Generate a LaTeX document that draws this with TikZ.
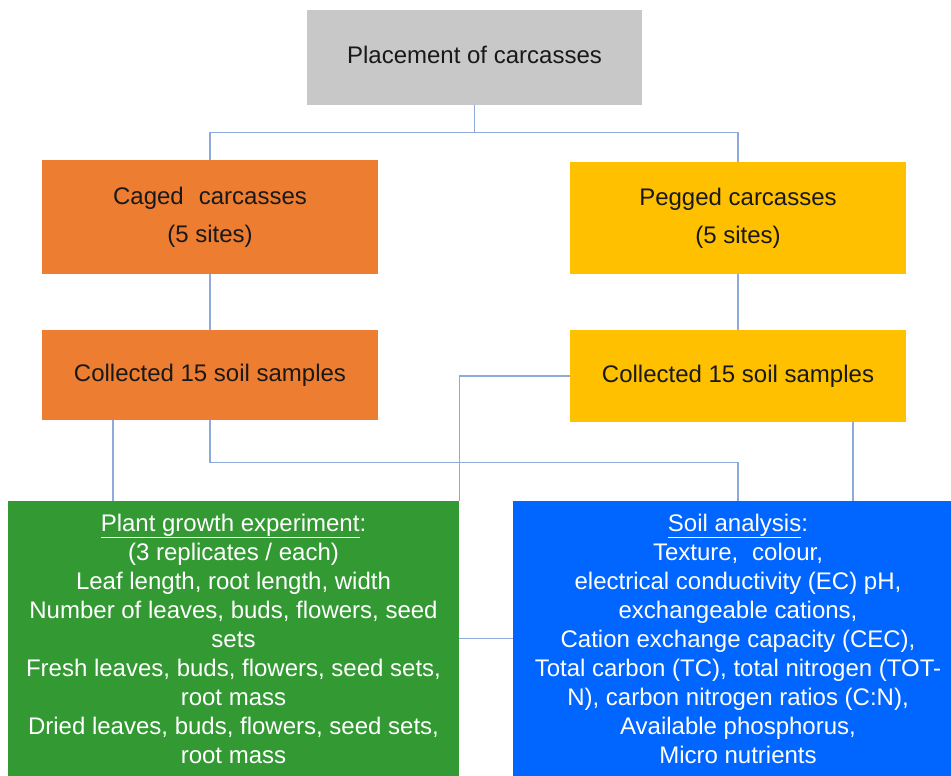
\documentclass[tikz,border=0pt]{standalone}
\usepackage{fontspec}
\setmainfont{Liberation Sans}
\definecolor{cgray}{HTML}{C8C8C8}
\definecolor{corange}{HTML}{ED7D31}
\definecolor{cgold}{HTML}{FFC000}
\definecolor{cgreen}{HTML}{339933}
\definecolor{cblue}{HTML}{0066FF}
\definecolor{cline}{HTML}{8EAADB}
\begin{document}
\begin{tikzpicture}[x=1pt,y=1pt,
  box/.style={rectangle, inner sep=0pt, align=center, text=black!90,
    font=\fontsize{24}{38}\selectfont},
  bigbox/.style={rectangle, inner sep=0pt, align=center, text=white,
    font=\fontsize{24}{29}\selectfont},
  conn/.style={draw=cline, line width=1.1pt}]
\clip (0,0) rectangle (951,-776);
\fill[white] (0,0) rectangle (951,-776);
\node[box, fill=cgray, minimum width=335, minimum height=95] (top) at (474.5,-57.5) {\raisebox{5pt}{Placement of carcasses}};
\node[box, fill=corange, minimum width=336, minimum height=114] (caged) at (210,-217) {\raisebox{-2pt}{Caged\hspace{0.35em} carcasses}\\\raisebox{-2pt}{(5 sites)}};
\node[box, fill=cgold, minimum width=336, minimum height=112] (pegged) at (738,-218) {\raisebox{-2pt}{Pegged carcasses}\\\raisebox{-2pt}{(5 sites)}};
\node[box, fill=corange, minimum width=336, minimum height=90] (cl) at (210,-375) {\raisebox{-2pt}{Collected 15 soil samples}};
\node[box, fill=cgold, minimum width=336, minimum height=92] (cr) at (738,-376) {\raisebox{-1pt}{Collected 15 soil samples}};
\node[bigbox, fill=cgreen, minimum width=451, minimum height=275] (plant) at (233.5,-638.5) {\underline{Plant growth experiment}:\\(3 replicates / each)\\Leaf length, root length, width\\Number of leaves, buds, flowers, seed\\sets\\Fresh leaves, buds, flowers, seed sets,\\root mass\\Dried leaves, buds, flowers, seed sets,\\root mass};
\node[bigbox, fill=cblue, minimum width=450, minimum height=275] (soil) at (738,-638.5) {\underline{Soil analysis}:\\Texture,\hspace{0.3em} colour,\\electrical conductivity (EC) pH,\\exchangeable cations,\\Cation exchange capacity (CEC),\\Total carbon (TC), total nitrogen (TOT-\\N), carbon nitrogen ratios (C:N),\\Available phosphorus,\\Micro nutrients};
% connectors
\draw[conn] (top.south) -- ++(0,-27) -| (caged.north);
\draw[conn] (top.south) -- ++(0,-27) -| (pegged.north);
\draw[conn] (caged.south) -- (cl.north);
\draw[conn] (pegged.south) -- (cr.north);
\draw[conn] ([xshift=-97]cl.south) -- ([xshift=-97]cl.south |- plant.north);
\draw[conn] (cl.south) -- ++(0,-42) -| (soil.north);
\draw[conn] (cr.west) -| (plant.north east);
\draw[conn] ([xshift=115]cr.south) -- ([xshift=115]cr.south |- soil.north);
\draw[conn] (plant.east) -- (soil.west);
\end{tikzpicture}
\end{document}
